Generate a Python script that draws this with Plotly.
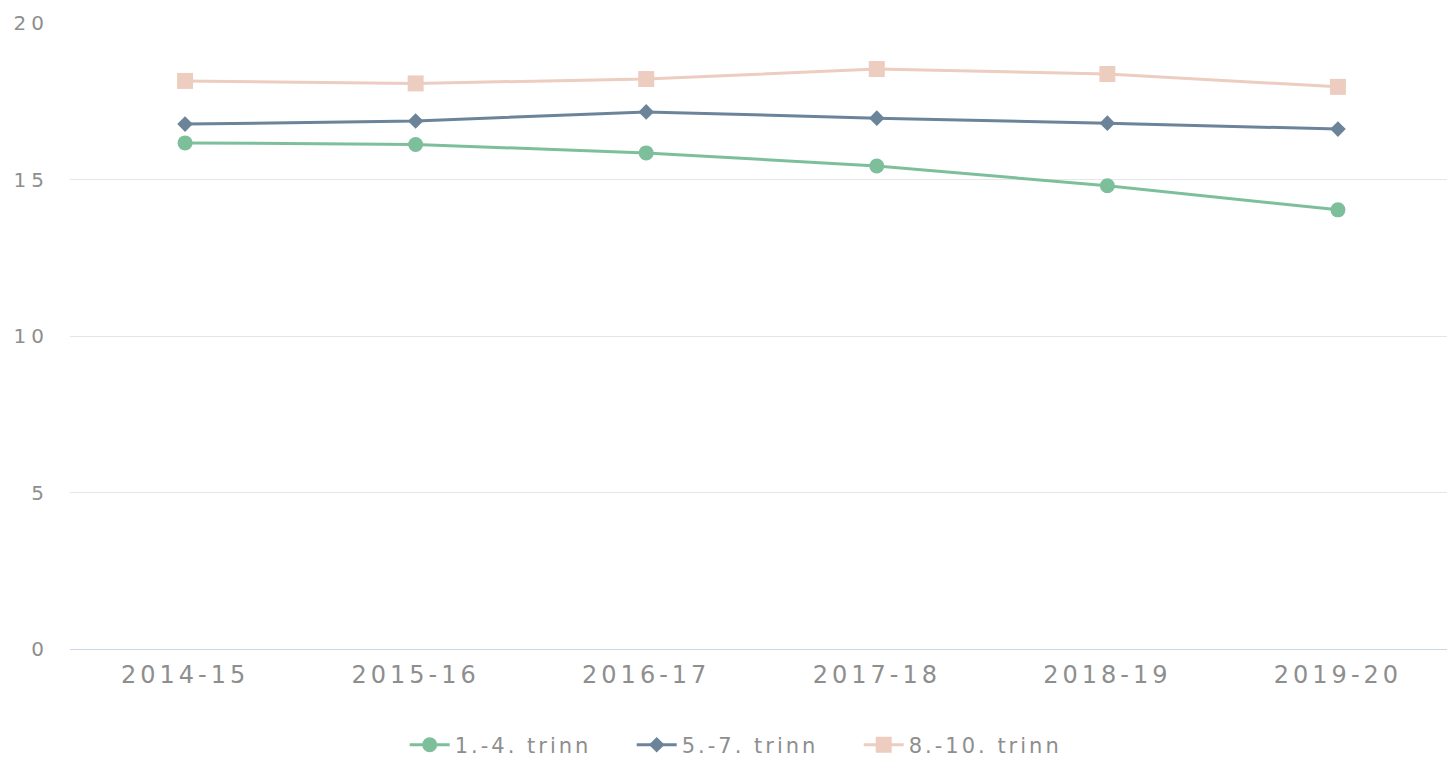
import plotly.graph_objects as go

categories = ["2014-15", "2015-16", "2016-17", "2017-18", "2018-19", "2019-20"]
series_names = ["1.-4. trinn", "5.-7. trinn", "8.-10. trinn"]
trinn_1_4 = [16.17, 16.12, 15.85, 15.43, 14.80, 14.03]
trinn_5_7 = [16.77, 16.87, 17.16, 16.96, 16.80, 16.61]
trinn_8_10 = [18.15, 18.07, 18.21, 18.53, 18.37, 17.96]
y_ticks = [0, 5, 10, 15, 20]

colors = ["#7dbf9a", "#6b8499", "#edcdc0"]
symbols = ["circle", "diamond", "square"]
sizes = [15, 12, 16]

fig = go.Figure()
for name, vals, c, s, sz in zip(series_names, [trinn_1_4, trinn_5_7, trinn_8_10], colors, symbols, sizes):
    fig.add_trace(go.Scatter(
        x=categories, y=vals, name=name, mode="lines+markers",
        line=dict(color=c, width=3),
        marker=dict(color=c, symbol=s, size=sz),
    ))

grey = "#8e8e8e"
fig.update_layout(
    width=1447, height=758,
    margin=dict(l=70, r=0, t=23, b=109),
    paper_bgcolor="white", plot_bgcolor="white",
    font=dict(family="DejaVu Sans", color=grey),
    showlegend=True,
    legend=dict(orientation="h", xref="container", yref="container",
                x=0.515, xanchor="center", y=0.017, yanchor="middle",
                font=dict(size=21, color=grey), itemwidth=40, traceorder="normal",
                entrywidth=172, entrywidthmode="pixels"),
    xaxis=dict(type="category", range=[-0.499, 5.473], showgrid=False, showline=False,
               ticks="", tickfont=dict(size=24, color=grey), zeroline=False,
               automargin=False, ticklabelstandoff=9),
    yaxis=dict(range=[0, 20], tickvals=y_ticks, showgrid=True, gridcolor="#e6e6e6",
               gridwidth=1, zeroline=True, zerolinecolor="#ccd6eb", zerolinewidth=1,
               tickfont=dict(size=20, color=grey), ticks="", ticklabelstandoff=20,
               automargin=False),
)

css = ("html,body{margin:0;padding:0;height:758px;overflow:hidden}"
       ".xtick text{letter-spacing:4px}"
       ".ytick text{letter-spacing:5px;font-weight:bold}"
       ".legendtext{letter-spacing:3px}")
post = ("var s=document.createElement('style');s.innerHTML='" + css +
        "';document.head.appendChild(s);")
fig.write_html("out.html", post_script=post, config={"displayModeBar": False})
